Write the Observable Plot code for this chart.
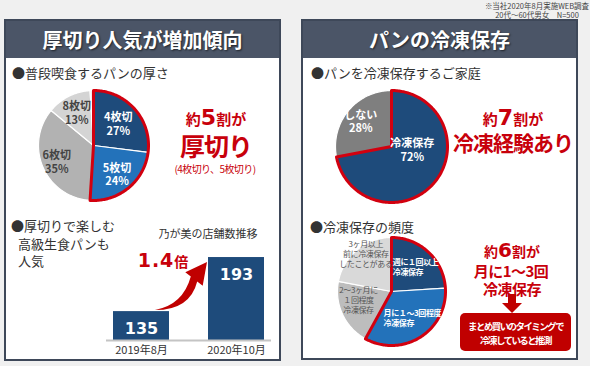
<!DOCTYPE html>
<html><head><meta charset="utf-8">
<script src="https://cdn.jsdelivr.net/npm/d3@7"></script>
<script src="https://cdn.jsdelivr.net/npm/@observablehq/plot@0.6"></script>
<style>
body{margin:0;width:590px;height:366px;background:#f0f0f0;position:relative;overflow:hidden;font-family:"Noto Sans CJK JP","Noto Sans",sans-serif;}
.abs{position:absolute;white-space:nowrap;line-height:1;}
.c{transform:translate(-50%,-50%);text-align:center;}
.l{transform:translateY(-50%);}
.panel{position:absolute;box-sizing:border-box;border:2px solid #3e4859;background:#fff;}
.hdr{position:absolute;left:0;right:0;top:0;height:37px;background:#4b5567;color:#fff;font-weight:bold;font-size:20px;display:flex;align-items:center;justify-content:center;text-shadow:1px 1px 2px rgba(0,0,0,.6);}
.red{color:#c8000b;font-weight:bold;}
.sub{font-size:13px;color:#333;}
.plotbox{position:absolute;}
.pie3 text{letter-spacing:-0.4px;}
svg.deco{position:absolute;left:0;top:0;pointer-events:none;}
</style>
</head><body>
<script>
// ---- data ----
const thicknessLabels = ["4枚切", "5枚切", "6枚切", "8枚切", "その他"];
const thicknessValues = [27, 24, 35, 13, 1];
const freezeLabels = ["冷凍保存", "しない"];
const freezeValues = [72, 28];
const freqLabels = ["週に１回以上\n冷凍保存", "月に１～3回程度\n冷凍保存", "2～3ヶ月に\n１回程度\n冷凍保存", "3ヶ月以上\n前に冷凍保存\nしたことがある"];
const freqValues = [24, 34, 20, 22];
const storeDates = ["2019年8月", "2020年10月"];
const storeCounts = [135, 193];
const storeAxisMin = 104;
const storeAxisMax = 222;

// ---- layout / style ----
const NAVY = "#1e4b7b", BLUE = "#2372ba", RED = "#d2000f";

function piePlot({values, colors, labelText, textColors, bold, labelR, labelAngle, anchors, fontSize, lineHeight, r, size, highlight, className}) {
  const total = d3.sum(values);
  let acc = 0;
  const slices = values.map((v, i) => {
    const a0 = acc / total * 2 * Math.PI; acc += v;
    const a1 = acc / total * 2 * Math.PI;
    return {i, a0, a1};
  });
  const arcPts = (k, a0, a1, c, rr) => {
    const pts = [{k, x: 0, y: 0, c}];
    const n = Math.max(2, Math.ceil((a1 - a0) / 0.02));
    for (let j = 0; j <= n; j++) {
      const a = a0 + (a1 - a0) * j / n;
      pts.push({k, x: rr * Math.sin(a), y: rr * Math.cos(a), c});
    }
    pts.push({k, x: 0, y: 0, c});
    return pts;
  };
  const poly = slices.flatMap(s => arcPts(s.i, s.a0, s.a1, colors[s.i], r));
  const hi = arcPts("h", slices[highlight[0]].a0, slices[highlight[1]].a1, RED, r);
  const lab = slices.filter(s => labelText[s.i]).map(s => {
    const am = labelAngle && labelAngle[s.i] != null ? labelAngle[s.i] / 360 * 2 * Math.PI : (s.a0 + s.a1) / 2;
    const lr = labelR[s.i];
    return {x: lr * Math.sin(am), y: lr * Math.cos(am), t: labelText[s.i], c: textColors[s.i], b: bold[s.i], a: anchors ? anchors[s.i] : "middle"};
  });
  const h = size / 2;
  return Plot.plot({
    width: size, height: size, margin: 0, className,
    x: {domain: [-h, h], axis: null}, y: {domain: [-h, h], axis: null},
    color: {type: "identity"},
    style: {background: "transparent", overflow: "visible", fontFamily: "'Noto Sans CJK JP', sans-serif"},
    marks: [
      Plot.line(poly, {x: "x", y: "y", z: "k", fill: "c", stroke: "white", strokeWidth: 1.2}),
      Plot.line(hi, {x: "x", y: "y", stroke: RED, strokeWidth: 3, strokeLinejoin: "round"}),
      ...lab.map(d => Plot.text([d], {x: "x", y: "y", text: "t", fill: "c", fontSize, textAnchor: d.a, fontWeight: d.b ? "bold" : "normal", lineHeight}))
    ]
  });
}

function place(el, left, top) {
  const d = document.createElement("div");
  d.className = "plotbox";
  d.style.left = left + "px"; d.style.top = top + "px";
  d.appendChild(el);
  document.body.appendChild(d);
}

function text(html, x, y, cls, style) {
  const d = document.createElement("div");
  d.className = "abs " + cls;
  d.style.left = x + "px"; d.style.top = y + "px";
  if (style) d.style.cssText += style;
  d.innerHTML = html;
  document.body.appendChild(d);
}

// panels
document.body.insertAdjacentHTML("beforeend",
  `<div class="panel" style="left:4px;top:19px;width:277px;height:342px"><div class="hdr">厚切り人気が増加傾向</div></div>
   <div class="panel" style="left:301px;top:19px;width:277px;height:341px"><div class="hdr">パンの冷凍保存</div></div>`);

// top note
text("※当社2020年8月実施WEB調査<br>20代～60代男女　N=500", 537, 9.5, "c", "font-size:7.5px;color:#444;line-height:9px;");

// subheadings
text("●普段喫食するパンの厚さ", 12, 72, "l sub");
text("●パンを冷凍保存するご家庭", 311, 72, "l sub");
text("●冷凍保存の頻度", 310, 226, "l sub");
text("●厚切りで楽しむ", 11, 225, "l sub");
text("高級生食パンも", 18, 243, "l sub");
text("人気", 18, 260, "l sub");

// pie 1
const pctLabel = (labels, values) => labels.map((l, i) => l === "その他" ? "" : `${l}\n${values[i]}%`);
place(piePlot({
  values: thicknessValues,
  colors: [NAVY, BLUE, "#b2b2b2", "#d4d4d4", "#efefef"],
  labelText: pctLabel(thicknessLabels, thicknessValues),
  textColors: ["#fff", "#fff", "#444", "#444", "#444"],
  bold: [true, true, true, true, true],
  labelR: [33, 37, 40, 37, 0],
  fontSize: 11, lineHeight: 1.25, r: 55, size: 124, highlight: [0, 1]
}), 30.5, 83);

// pie 2
place(piePlot({
  values: freezeValues,
  colors: [NAVY, "#7f7f7f"],
  labelText: pctLabel(freezeLabels, freezeValues),
  textColors: ["#fff", "#fff"],
  bold: [true, true],
  labelR: [21, 40],
  labelAngle: [98, null],
  fontSize: 11, lineHeight: 1.25, r: 56, size: 124, highlight: [0, 0]
}), 329, 84);

// pie 3
place(piePlot({
  values: freqValues,
  colors: [NAVY, BLUE, "#bdbdbd", "#d9d9d9"],
  labelText: freqLabels,
  textColors: ["#fff", "#fff", "#555", "#555"],
  bold: [true, true, false, false],
  labelR: [25, 27, 34, 46],
  labelAngle: [3, 197, 256, 326],
  anchors: ["start", "start", "middle", "middle"],
  fontSize: 8, lineHeight: 1.25, r: 54, size: 124, highlight: [0, 1], className: "pie3"
}), 329, 229);

// bar chart
const storeData = storeDates.map((d, i) => ({date: d, count: storeCounts[i]}));
place(Plot.plot({
  width: 180, height: 135, marginLeft: 6, marginRight: 9, marginTop: 5, marginBottom: 20,
  x: {domain: storeDates, paddingInner: 0.406, paddingOuter: 0.0625, tickSize: 0, tickPadding: 6, label: null},
  y: {domain: [storeAxisMin, storeAxisMax], axis: null},
  style: {background: "transparent", overflow: "visible", fontSize: "11px", color: "#333", fontFamily: "'Noto Sans CJK JP', sans-serif"},
  marks: [
    Plot.barY(storeData, {x: "date", y1: storeAxisMin, y2: "count", fill: NAVY}),
    Plot.ruleY([storeAxisMin], {stroke: "#c4c4c4", strokeWidth: 2}),
    Plot.text(storeData, {x: "date", y: "count", text: d => String(d.count), dy: 17, fill: "white", fontSize: 16, fontWeight: "bold", fontFamily: "DejaVu Sans"})
  ]
}), 100, 225);

text("乃が美の店舗数推移", 208, 233, "c", "font-size:11px;color:#333;");
text(`<span style="font-family:'DejaVu Sans';font-size:19px;letter-spacing:1px">1.4</span><span style="font-size:14px">倍</span>`, 163, 260, "c red");

// annotations
text(`<span style="font-size:15px">約</span><span style="font-size:22px;font-family:'DejaVu Sans'">5</span><span style="font-size:15px">割が</span>`, 216, 118, "c red");
text("厚切り", 216, 145, "c red", "font-size:25px;letter-spacing:-1px;");
text("(4枚切り、5枚切り)", 215, 169, "c", "font-size:10px;color:#c8000b;letter-spacing:-0.6px;");

text(`<span style="font-size:15px">約</span><span style="font-size:22px;font-family:'DejaVu Sans'">7</span><span style="font-size:15px">割が</span>`, 513, 118, "c red");
text("冷凍経験あり", 513, 142, "c red", "font-size:21px;letter-spacing:-1px;");

text(`<span style="font-size:14px">約</span><span style="font-size:20px;font-family:'DejaVu Sans'">6</span><span style="font-size:14px">割が</span>`, 512, 250, "c red");
text("月に1～3回", 511, 270, "c red", "font-size:15px;letter-spacing:-0.5px;");
text("冷凍保存", 512, 288, "c red", "font-size:15px;letter-spacing:-0.5px;");

// decorations
document.body.insertAdjacentHTML("beforeend",
  `<svg class="deco" width="590" height="366">
    <path d="M155,310 Q183,305 190.8,276.6 L185.3,272.3 L207,262 L202.7,285.7 L197.2,281.4 Q190,310 155,310 Z" fill="#c00000"/>
    <path d="M508,294 L516,294 L516,303 L522,303 L512,313 L502,303 L508,303 Z" fill="#c00000"/>
    <rect x="460" y="313" width="111" height="38" rx="5" fill="#c00000"/>
  </svg>`);
text("まとめ買いのタイミングで<br>冷凍していると推測", 515.5, 333, "c", "font-size:9.5px;line-height:14px;color:#fff;font-weight:bold;letter-spacing:-1.6px;");
</script>
</body></html>
